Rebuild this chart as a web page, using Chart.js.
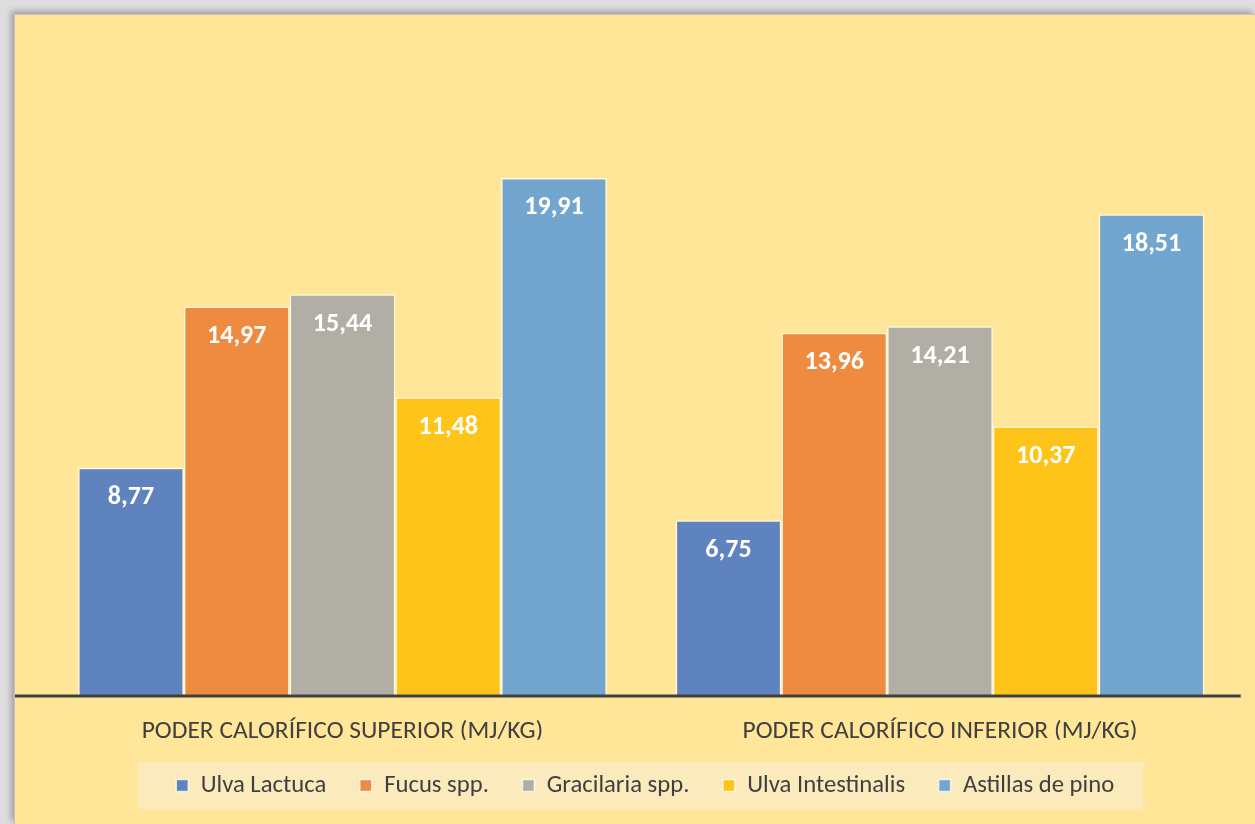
<!DOCTYPE html>
<html>
<head>
<meta charset="utf-8">
<script src="https://cdn.jsdelivr.net/npm/chart.js@4.4.1/dist/chart.umd.min.js"></script>
<style>
  html, body { margin: 0; padding: 0; }
  body { width: 1255px; height: 824px; background: #dedede; overflow: hidden; position: relative; }
  #frame {
    position: absolute; left: 14px; top: 14px; width: 1241px; height: 810px;
    background: #FFE699;
    border-top: 1px solid #c4c4c4; border-left: 1px solid #c4c4c4;
    box-sizing: border-box;
    box-shadow: -3px -3px 6px rgba(0,0,0,0.28);
  }
  #chart { position: absolute; left: 0; top: 0; }
</style>
</head>
<body>
<div id="frame"><canvas id="chart" width="1240" height="809"></canvas></div>
<script>
(function () {
  'use strict';

  const categories = ['PODER CALORÍFICO SUPERIOR (MJ/KG)', 'PODER CALORÍFICO INFERIOR (MJ/KG)'];
  const seriesNames = ['Ulva Lactuca', 'Fucus spp.', 'Gracilaria spp.', 'Ulva Intestinalis', 'Astillas de pino'];
  const ulvaLactuca = [8.77, 6.75];
  const fucus = [14.97, 13.96];
  const gracilaria = [15.44, 14.21];
  const ulvaIntestinalis = [11.48, 10.37];
  const astillasPino = [19.91, 18.51];
  const seriesColors = ['#5F83BE', '#EF8B41', '#B1AEA5', '#FFC419', '#72A6CE'];

  const seriesValues = [ulvaLactuca, fucus, gracilaria, ulvaIntestinalis, astillasPino];

  const FONT = 'Carlito, Calibri, "Open Sans", sans-serif';
  const fmt = v => v.toFixed(2).replace('.', ',');

  // white value labels near the top of each bar
  const valueLabels = {
    id: 'valueLabels',
    afterDatasetsDraw(chart) {
      const ctx = chart.ctx;
      ctx.save();
      ctx.fillStyle = '#ffffff';
      ctx.font = 'bold 26px ' + FONT;
      ctx.textAlign = 'center';
      ctx.textBaseline = 'middle';
      chart.data.datasets.forEach((ds, i) => {
        chart.getDatasetMeta(i).data.forEach((bar, j) => {
          ctx.fillText(fmt(ds.data[j]), bar.x, bar.y + 30);
        });
      });
      ctx.restore();
    }
  };

  // axis line running across the whole plot, drawn over the bar bottoms
  const baseLine = {
    id: 'baseLine',
    afterDatasetsDraw(chart) {
      const ctx = chart.ctx;
      const y = chart.scales.y.getPixelForValue(0);
      ctx.save();
      ctx.strokeStyle = '#404040';
      ctx.lineWidth = 3;
      ctx.beginPath();
      ctx.moveTo(0, y);
      ctx.lineTo(chart.chartArea.right + 2, y);
      ctx.stroke();
      ctx.restore();
    }
  };

  // pale panel behind the legend, fixed legend height, legend nudged right
  const legendPanel = {
    id: 'legendPanel',
    beforeInit(chart) {
      const fit = chart.legend.fit;
      chart.legend.fit = function () {
        fit.call(this);
        this.height = 84.25;
      };
    },
    afterLayout(chart) {
      chart.legend.left += 4;
      chart.legend.right += 4;
    },
    beforeDraw(chart) {
      const lg = chart.legend;
      if (!lg || !lg.legendHitBoxes.length) return;
      const boxes = lg.legendHitBoxes;
      const first = boxes[0];
      const last = boxes[boxes.length - 1];
      const cy = first.top + first.height / 2;
      const ctx = chart.ctx;
      ctx.save();
      ctx.fillStyle = '#FBEBBC';
      ctx.fillRect(first.left - 38, cy - 23.5, last.left + last.width - first.left + 67, 47);
      ctx.restore();
    }
  };

  new Chart(document.getElementById('chart'), {
    type: 'bar',
    data: {
      labels: categories,
      datasets: seriesNames.map((name, i) => ({
        label: name,
        data: seriesValues[i],
        backgroundColor: seriesColors[i],
        borderColor: 'rgba(255,255,255,0.75)',
        borderWidth: 1.5,
        borderSkipped: 'bottom',
        barPercentage: 1,
        categoryPercentage: 0.885
      }))
    },
    options: {
      responsive: false,
      animation: false,
      layout: { padding: { left: 28.75, right: 16.25, top: 30.5, bottom: 0 } },
      scales: {
        x: {
          grid: { display: false, drawTicks: false },
          border: { display: false },
          ticks: {
            color: '#404040',
            font: { family: FONT, size: 25.5 },
            padding: 20
          },
          afterFit(scale) { scale.height = 43.75; }
        },
        y: {
          display: false,
          min: 0,
          max: 25
        }
      },
      plugins: {
        tooltip: { enabled: false },
        legend: {
          position: 'bottom',
          labels: {
            color: '#404040',
            font: { family: FONT, size: 24.7 },
            boxWidth: 12,
            boxHeight: 12,
            padding: 33.5
          }
        }
      }
    },
    plugins: [legendPanel, valueLabels, baseLine]
  });
})();
</script>
</body>
</html>
